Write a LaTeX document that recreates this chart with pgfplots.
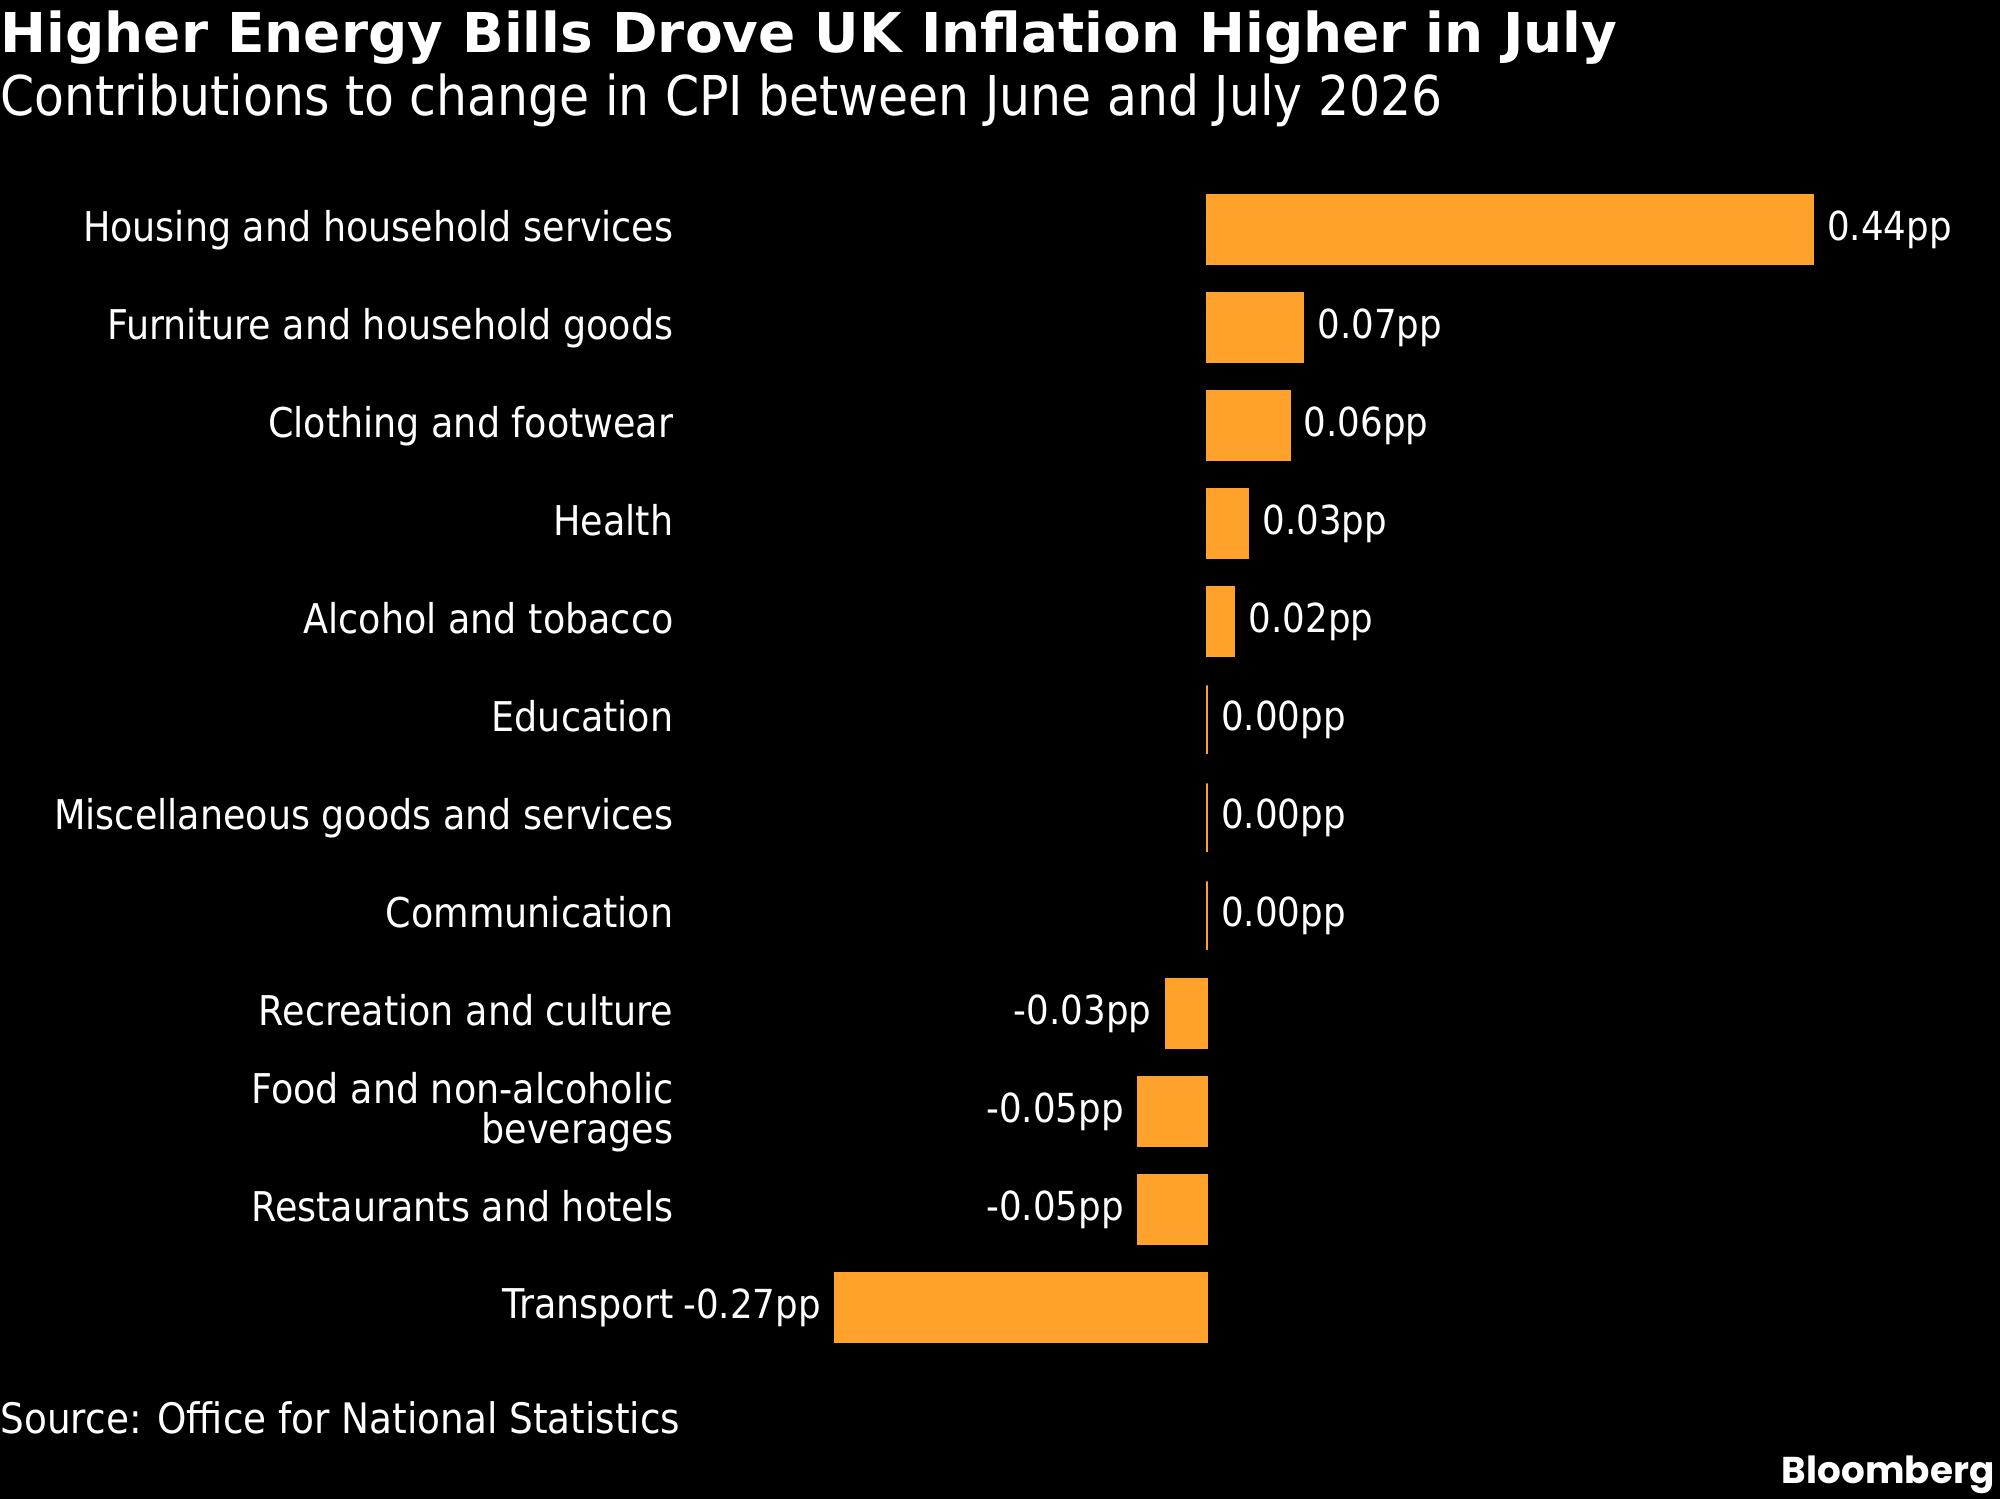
\documentclass[border=0pt]{standalone}
\usepackage{pgfplots}
\pgfplotsset{compat=1.18}
\usepackage{pgfplotstable}
\usepackage{fontspec}
\setmainfont{DejaVu Sans}[FakeStretch=0.89]
\newfontfamily\titlefont{DejaVu Sans}
\newfontfamily\bbfont{Poppins}
\definecolor{barorange}{HTML}{FFA22B}

\pgfplotstableread{
y x lab
0 0.44 0.44pp
1 0.07 0.07pp
2 0.06 0.06pp
3 0.03 0.03pp
4 0.02 0.02pp
5 0.00 0.00pp
6 0.00 0.00pp
7 0.00 0.00pp
}\postab
\pgfplotstableread{
y x lab
8 -0.03 -0.03pp
9 -0.05 -0.05pp
10 -0.05 -0.05pp
11 -0.27 -0.27pp
}\negtab

\begin{document}
\begin{tikzpicture}
\path[use as bounding box, fill=black] (0,0) rectangle (600bp,449.7bp);
\node[anchor=base west, inner sep=0pt, text=white, font=\titlefont\bfseries\fontsize{16.47bp}{19bp}\selectfont] at (0,433.8bp) {Higher Energy Bills Drove UK Inflation Higher in July};
\node[anchor=base west, inner sep=0pt, text=white, font=\fontsize{16.47bp}{19bp}\selectfont] at (0,414.9bp) {Contributions to change in CPI between June and July 2026};
\node[anchor=base west, inner sep=0pt, text=white, font=\fontsize{12.6bp}{15bp}\selectfont] at (0,19.8bp) {Source: Office for National Statistics};
\node[anchor=base east, inner sep=0pt, text=white, font=\bbfont\bfseries\fontsize{11.2bp}{14bp}\selectfont] at (598.5bp,4.8bp) {Bloomberg};
\begin{axis}[
  at={(205.1bp,42.72bp)}, anchor=south west,
  width=384.2bp, height=352.8bp, scale only axis,
  xbar,
  xmin=-0.38, xmax=0.55, ymin=-0.5, ymax=11.5, y dir=reverse,
  axis line style={draw=none},
  tick style={draw=none},
  major tick length=0pt,
  xtick=\empty,
  ytick={0,1,2,3,4,5,6,7,8,9,10,11},
  yticklabels={Housing and household services, Furniture and household goods, Clothing and footwear, Health, Alcohol and tobacco, Education, Miscellaneous goods and services, Communication, Recreation and culture, {Food and non-alcoholic\\beverages}, Restaurants and hotels, Transport},
  yticklabel style={anchor=east, inner sep=0pt, xshift=-2.9bp, align=right, text depth=0.24em, text=white, font=\fontsize{12.3bp}{12bp}\selectfont},
  clip=false,
]
\addplot[fill=barorange, draw=barorange, line width=0.6bp, bar width=0.7, bar shift=0pt,
  nodes near coords, point meta=explicit symbolic,
  nodes near coords style={anchor=west, inner xsep=4.0bp, inner ysep=0pt, text=white, font=\fontsize{12.0bp}{13bp}\selectfont}]
  table[x=x, y=y, meta=lab] {\postab};
\addplot[fill=barorange, draw=barorange, line width=0.6bp, bar width=0.7, bar shift=0pt,
  nodes near coords, point meta=explicit symbolic,
  nodes near coords style={anchor=east, inner xsep=4.0bp, inner ysep=0pt, text=white, font=\fontsize{12.0bp}{13bp}\selectfont}]
  table[x=x, y=y, meta=lab] {\negtab};
\end{axis}
\end{tikzpicture}
\end{document}
